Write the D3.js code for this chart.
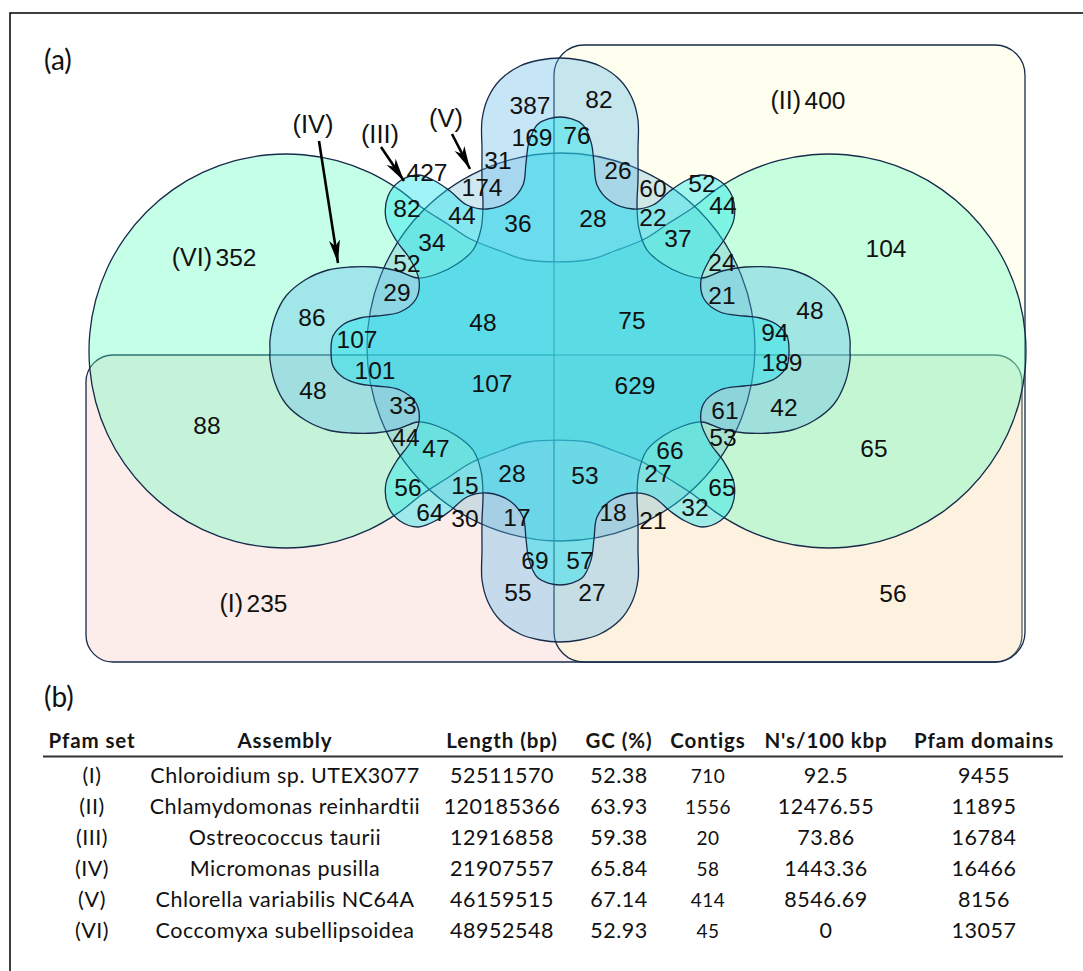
<!DOCTYPE html>
<html>
<head>
<meta charset="utf-8">
<script src="https://cdn.jsdelivr.net/npm/d3@7"></script>
<style>
  html, body { margin: 0; padding: 0; background: #ffffff; }
  svg { display: block; }
</style>
</head>
<body>
<svg id="fig" width="1083" height="971"></svg>
<script>
// ---------------- data ----------------
// Pfam domain counts for each region of the six-set Venn diagram (a),
// keyed by the sets that the region belongs to.
const regionSets = [
  "IV", "III IV", "II III IV", "II IV", "IV V", "V", "III", "III VI", "III V", "III IV V",
  "III V VI", "V VI", "IV V VI", "II III IV V", "II IV V", "II V", "II III V", "II III", "II III VI", "II III V VI",
  "II V VI", "II IV V VI", "III IV V VI", "II III IV V VI", "III IV VI", "IV VI", "VI", "II VI", "II IV VI", "II III IV VI",
  "I II III IV VI", "I II IV VI", "I II III IV V VI", "I III IV V VI", "I III IV VI", "I IV VI", "I VI", "I IV V VI", "I V VI", "I III V VI",
  "I III VI", "I III", "I III V", "I V", "I III IV V", "I IV V", "I II III IV V", "I II IV V", "I II V", "I III IV",
  "I II III IV", "I IV", "I II IV", "I II III V VI", "I II III V", "I II III", "I II III VI", "I II IV V VI", "I II V VI", "I II VI",
  "I II", "I", "II"
];
const regionCounts = [
  387, 169, 76, 82, 31, 174, 427, 82, 44, 36,
  34, 52, 29, 28, 26, 60, 22, 52, 44, 37,
  24, 21, 48, 75, 107, 86, 352, 104, 48, 94,
  189, 42, 629, 107, 101, 48, 88, 33, 44, 47,
  56, 64, 15, 30, 28, 17, 53, 18, 21, 69,
  57, 55, 27, 66, 27, 32, 65, 61, 53, 65,
  56, 235, 400
];
// Regions whose count is printed together with the set name.
const namedRegions = { "I": "(I)", "II": "(II)", "VI": "(VI)" };

// Genome assemblies table (b)
const tableHeaders = ["Pfam set", "Assembly", "Length (bp)", "GC (%)", "Contigs", "N's/100 kbp", "Pfam domains"];
const pfamSet     = ["(I)", "(II)", "(III)", "(IV)", "(V)", "(VI)"];
const assembly    = ["Chloroidium sp. UTEX3077", "Chlamydomonas reinhardtii", "Ostreococcus taurii",
                     "Micromonas pusilla", "Chlorella variabilis NC64A", "Coccomyxa subellipsoidea"];
const lengthBp    = [52511570, 120185366, 12916858, 21907557, 46159515, 48952548];
const gcPct       = [52.38, 63.93, 59.38, 65.84, 67.14, 52.93];
const contigs     = [710, 1556, 20, 58, 414, 45];
const nsPer100kbp = [92.5, 12476.55, 73.86, 1443.36, 8546.69, 0];
const pfamDomains = [9455, 11895, 16784, 16466, 8156, 13057];

// ---------------- layout ----------------
const svg = d3.select("#fig");
const W = 1083, H = 971;

// Diagram frame: offsets (px) from the centre of the Venn diagram.
const cx = 560, cy = 350;
const vx = d3.scaleLinear().domain([-500, 500]).range([cx - 500, cx + 500]);
const vy = d3.scaleLinear().domain([-350, 350]).range([cy - 350, cy + 350]);

// Label anchor of each region (diagram offsets), same order as regionSets.
const labelPos = [
  [-30,-245], [-28,-213], [17,-215], [39,-251], [-62,-190], [-78,-163], [-133,-178], [-153,-142], [-98,-135], [-42,-127],
  [-128,-108], [-153,-87], [-163,-58], [33,-132], [58,-180], [93,-162], [93,-133], [142,-167], [163,-145], [118,-112],
  [162,-88], [162,-55], [-77,-28], [72,-30], [-203,-11], [-248,-33], [-324,-93], [326,-102], [250,-40], [215,-18],
  [222,12], [224,57], [75,35], [-68,33], [-185,20], [-247,40], [-353,75], [-157,55], [-154,87], [-124,98],
  [-152,137], [-130,162], [-95,135], [-95,168], [-48,123], [-43,167], [25,125], [53,162], [93,170], [-25,210],
  [20,210], [-42,242], [32,242], [110,100], [98,123], [135,157], [162,137], [165,60], [163,87], [314,98],
  [333,243], [-293,253], [265,-250]
];

// Shape outlines (diagram offsets).
const rectI  = { x0: -474, y0: 5,    x1: 462, y1: 312, r: 27 };
const rectII = { x0: -6,   y0: -305, x1: 465, y1: 312, r: 30 };
const circleV = { x: 1, y: -3, r: 194 };
// Set VI: two large lobes joined by a waist
const lobeVI = { x0: -2.5, y0: 1, half: 271.5, r: 197, span: 125 };
const waistVI = [[0,-87],[30,-91],[57,-100],[87,-112],[110,-127],[135,-143]];
// Set IV: four-lobed outline, one quadrant from the top tip clockwise to the right tip
const quadIV = [
  [0,-292],[20,-290],[40,-284],[60,-270],[72,-252],[78,-230],[78,-200],[78,-170],[77,-145],
  [79,-121],[87,-100],[103,-86],[123,-76],[142,-72],[162,-79],[185,-83],[210,-83],[232,-80],
  [255,-70],[274,-54],[285,-33],[290,-10],[290,0]
];
// Set III: eight-lobed outline, one quadrant
const quadIII = [
  [0,-234],[22,-227],[31,-209],[34,-188],[37,-166],[50,-150],[73,-142],[93,-146],[110,-160],
  [125,-170],[142,-176],[160,-170],[172,-155],[174,-132],[164,-111],[150,-92],[141,-71],
  [144,-52],[160,-39],[184,-35],[200,-33],[216,-27],[227,-15],[229,0]
];
const offIII = [0, 1];

// Pointer arrows for the sets III, IV and V
const arrows = [
  { name: "(IV)",  text: [313,133], from: [319,141], to: [338,263] },
  { name: "(III)", text: [380,143], from: [381,147], to: [404,181] },
  { name: "(V)",   text: [446,127], from: [452,134], to: [470,169] }
];

// ---------------- drawing ----------------
const strokeCol = "#172b4a";
const venn = svg.append("g").attr("class", "venn");

function roundRect(r) {
  const p = d3.path();
  const x0 = vx(r.x0), x1 = vx(r.x1), y0 = vy(r.y0), y1 = vy(r.y1), k = r.r;
  p.moveTo(x0 + k, y0);
  p.lineTo(x1 - k, y0); p.arcTo(x1, y0, x1, y0 + k, k);
  p.lineTo(x1, y1 - k); p.arcTo(x1, y1, x1 - k, y1, k);
  p.lineTo(x0 + k, y1); p.arcTo(x0, y1, x0, y1 - k, k);
  p.lineTo(x0, y0 + k); p.arcTo(x0, y0, x0 + k, y0, k);
  p.closePath();
  return p.toString();
}

function mirrorLoop(q) {
  const pts = [];
  q.forEach(p => pts.push([p[0], p[1]]));
  q.slice(0, -1).reverse().forEach(p => pts.push([p[0], -p[1]]));
  q.slice(1).forEach(p => pts.push([-p[0], -p[1]]));
  q.slice(1, -1).reverse().forEach(p => pts.push([-p[0], p[1]]));
  return pts;
}

function dumbbell(L, waist) {
  const pts = [];
  const rad = Math.PI / 180;
  const xl = L.x0 - L.half, xr = L.x0 + L.half;
  // upper waist, left to right
  waist.slice(1).reverse().forEach(p => pts.push([L.x0 - p[0], L.y0 + p[1]]));
  waist.slice(1).forEach(p => pts.push([L.x0 + p[0], L.y0 + p[1]]));
  // right lobe
  for (let a = -L.span; a <= L.span + 0.01; a += 10)
    pts.push([xr + L.r * Math.cos(a * rad), L.y0 + L.r * Math.sin(a * rad)]);
  // lower waist, right to left
  waist.slice(1).reverse().forEach(p => pts.push([L.x0 + p[0], L.y0 - p[1]]));
  waist.slice(1).forEach(p => pts.push([L.x0 - p[0], L.y0 - p[1]]));
  // left lobe
  for (let a = 180 - L.span; a <= 180 + L.span + 0.01; a += 10)
    pts.push([xl + L.r * Math.cos(a * rad), L.y0 + L.r * Math.sin(a * rad)]);
  // drop duplicated waist centre points
  return pts.filter((p, i) => i === 0 || Math.hypot(p[0] - pts[i-1][0], p[1] - pts[i-1][1]) > 1);
}

const closedLine = d3.line()
  .x(p => vx(p[0])).y(p => vy(p[1]))
  .curve(d3.curveCatmullRomClosed.alpha(0.5));

const shapes = [
  { set: "I",   d: roundRect(rectI),  fill: "rgb(245,165,150)", op: 0.20 },
  { set: "II",  d: roundRect(rectII), fill: "rgb(255,255,190)", op: 0.25 },
  { set: "VI",  d: closedLine(dumbbell(lobeVI, waistVI)), fill: "rgb(92,255,189)", op: 0.35 },
  { set: "V",   d: (() => { const p = d3.path(); p.arc(vx(circleV.x), vy(circleV.y), circleV.r, 0, 2 * Math.PI); return p.toString(); })(),
    fill: "rgb(98,178,205)", op: 0.30 },
  { set: "IV",  d: closedLine(mirrorLoop(quadIV)), fill: "rgb(92,184,235)", op: 0.35 },
  { set: "III", d: closedLine(mirrorLoop(quadIII).map(p => [p[0] + offIII[0], p[1] + offIII[1]])),
    fill: "rgb(17,227,237)", op: 0.40 }
];

venn.selectAll("path.set")
  .data(shapes)
  .join("path")
  .attr("class", "set")
  .attr("d", s => s.d)
  .attr("fill", s => s.fill)
  .attr("fill-opacity", s => s.op)
  .attr("stroke", strokeCol)
  .attr("stroke-width", 1.3);

// region counts
const numFont = "'Liberation Sans', Arial, Helvetica, sans-serif";
const regions = regionSets.map((s, i) => ({ sets: s, count: regionCounts[i], pos: labelPos[i] }));

venn.selectAll("text.count")
  .data(regions)
  .join("text")
  .attr("class", "count")
  .attr("x", r => vx(r.pos[0]))
  .attr("y", r => vy(r.pos[1]))
  .attr("dy", "0.36em")
  .attr("text-anchor", "middle")
  .attr("font-family", numFont)
  .attr("font-size", 24.5)
  .attr("fill", "#111")
  .text(r => r.count);

// set names printed next to their single-set counts
venn.selectAll("text.setname")
  .data(regions.filter(r => namedRegions[r.sets]))
  .join("text")
  .attr("class", "setname")
  .attr("x", r => vx(r.pos[0]) - 24)
  .attr("y", r => vy(r.pos[1]))
  .attr("dy", "0.36em")
  .attr("text-anchor", "end")
  .attr("font-family", numFont)
  .attr("font-size", 25)
  .attr("fill", "#111")
  .text(r => namedRegions[r.sets]);

// arrows pointing at sets III, IV, V
svg.append("defs").append("marker")
  .attr("id", "head")
  .attr("viewBox", "-24 -7 26 14")
  .attr("refX", 0).attr("refY", 0)
  .attr("markerWidth", 26).attr("markerHeight", 14)
  .attr("markerUnits", "userSpaceOnUse")
  .attr("orient", "auto")
  .append("path")
  .attr("d", "M0,0 L-23,-5.5 L-17,0 L-23,5.5 Z")
  .attr("fill", "#000");

const ag = svg.append("g").attr("class", "arrows");
arrows.forEach(a => {
  ag.append("line")
    .attr("x1", a.from[0]).attr("y1", a.from[1])
    .attr("x2", a.to[0]).attr("y2", a.to[1])
    .attr("stroke", "#000").attr("stroke-width", 2.6)
    .attr("marker-end", "url(#head)");
  ag.append("text")
    .attr("x", a.text[0]).attr("y", a.text[1])
    .attr("text-anchor", "middle")
    .attr("font-family", numFont)
    .attr("font-size", 25.5)
    .attr("fill", "#111")
    .text(a.name);
});

// frame and panel letters
svg.append("path")
  .attr("d", `M10,${H} V13 H${W}`)
  .attr("fill", "none").attr("stroke", "#000").attr("stroke-width", 1.5);

const tabFont = "Lato, 'Open Sans', sans-serif";
svg.append("text").attr("x", 44).attr("y", 70)
  .attr("font-family", tabFont).attr("font-size", 28).attr("fill", "#111").text("(a)");
svg.append("text").attr("x", 44).attr("y", 707)
  .attr("font-family", tabFont).attr("font-size", 28).attr("fill", "#111").text("(b)");

// ---------------- table (b) ----------------
const colCentre = { "Pfam set": 92, "Assembly": 285, "Length (bp)": 502, "GC (%)": 619,
                    "Contigs": 708, "N's/100 kbp": 826, "Pfam domains": 984 };
const rowY = d3.scaleLinear().domain([0, 5]).range([783, 938]);

const tg = svg.append("g").attr("class", "table");
tg.selectAll("text.head")
  .data(tableHeaders)
  .join("text")
  .attr("class", "head")
  .attr("x", h => colCentre[h])
  .attr("y", 748)
  .attr("text-anchor", "middle")
  .attr("font-family", tabFont)
  .attr("font-weight", 700)
  .attr("font-size", 20.5)
  .attr("letter-spacing", 0.9)
  .attr("fill", "#151515")
  .text(h => h);

tg.append("line")
  .attr("x1", 43).attr("x2", 1063).attr("y1", 756.5).attr("y2", 756.5)
  .attr("stroke", "#333").attr("stroke-width", 2);

const columns = [pfamSet, assembly, lengthBp, gcPct, contigs, nsPer100kbp, pfamDomains];
const rows = d3.range(pfamSet.length).map(i => columns.map(c => c[i]));

tg.selectAll("g.row")
  .data(rows)
  .join("g")
  .attr("class", "row")
  .attr("transform", (d, i) => `translate(0,${rowY(i)})`)
  .selectAll("text")
  .data(d => d.map((v, j) => ({ v, h: tableHeaders[j] })))
  .join("text")
  .attr("x", c => colCentre[c.h])
  .attr("text-anchor", "middle")
  .attr("font-family", tabFont)
  .attr("font-size", c => c.h === "Contigs" ? 19 : 21.5)
  .attr("letter-spacing", 0.5)
  .attr("fill", "#111")
  .text(c => String(c.v));
</script>
</body>
</html>
